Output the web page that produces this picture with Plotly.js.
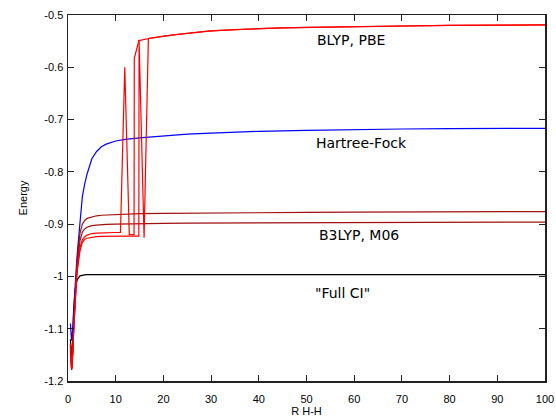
<!DOCTYPE html>
<html>
<head>
<meta charset="utf-8">
<script src="https://cdn.plot.ly/plotly-3.0.1.min.js"></script>
<style>html,body{margin:0;padding:0;background:#fff;}#chart{width:556px;height:417px;}</style>
</head>
<body>
<div id="chart"></div>
<script>
// Common grid of bond lengths (R H-H)
const xGrid = [0.5,0.6,0.7,0.75,0.8,0.9,1.0,1.2,1.5,1.8,2.0,2.5,3,3.5,4,5,6,7,8,10,12,15,20,25,30,40,50,60,70,80,90,100];

const fullCI = [-1.12,-1.143,-1.153,-1.154,-1.152,-1.14,-1.118,-1.065,-1.025,-1.011,-1.005,-0.999,-0.9975,-0.997,-0.9967,-0.9966,-0.9966,-0.9966,-0.9966,-0.9966,-0.9966,-0.9966,-0.9966,-0.9966,-0.9966,-0.9966,-0.9966,-0.9966,-0.9966,-0.9966,-0.9966,-0.9966];

const hartreeFock = [-1.09,-1.112,-1.122,-1.123,-1.121,-1.112,-1.098,-1.062,-1.007,-0.975,-0.95,-0.89,-0.848,-0.823,-0.804,-0.775,-0.761,-0.752,-0.747,-0.741,-0.738,-0.735,-0.731,-0.728,-0.726,-0.7225,-0.7205,-0.719,-0.718,-0.7175,-0.717,-0.7167];

const b3lyp = [-1.14,-1.168,-1.178,-1.179,-1.177,-1.165,-1.145,-1.095,-1.03,-0.985,-0.96,-0.918,-0.900,-0.893,-0.889,-0.886,-0.884,-0.883,-0.8825,-0.882,-0.881,-0.880,-0.8795,-0.879,-0.8785,-0.878,-0.8775,-0.877,-0.8768,-0.8765,-0.8762,-0.876];

const m06 = [-1.135,-1.165,-1.176,-1.177,-1.175,-1.163,-1.143,-1.096,-1.035,-0.995,-0.972,-0.932,-0.915,-0.909,-0.906,-0.903,-0.902,-0.901,-0.9005,-0.900,-0.8995,-0.899,-0.8985,-0.898,-0.8978,-0.8975,-0.897,-0.8967,-0.8965,-0.8963,-0.8961,-0.896];

const xBlyp = [0.5,0.6,0.7,0.75,0.8,0.9,1.0,1.2,1.5,1.8,2.0,2.5,3,3.5,4,5,6,7,8,10,11,11.9,12.85,13.85,13.9,14.85,17,20,22.5,25,27.5,30,35,40,45,50,60,70,80,90,100];
const blyp = [-1.13,-1.163,-1.175,-1.177,-1.175,-1.164,-1.145,-1.1,-1.04,-1.0,-0.98,-0.945,-0.93,-0.924,-0.921,-0.918,-0.917,-0.9165,-0.9162,-0.916,-0.916,-0.600,-0.920,-0.920,-0.583,-0.549,-0.545,-0.5405,-0.5375,-0.535,-0.5325,-0.5305,-0.528,-0.526,-0.5248,-0.5238,-0.5222,-0.521,-0.520,-0.5195,-0.519];

const xPbe = [0.5,0.6,0.7,0.75,0.8,0.9,1.0,1.2,1.5,1.8,2.0,2.5,3,3.5,4,5,6,7,8,10,12,14.85,14.9,15.95,16.85,20,22.5,25,27.5,30,35,40,45,50,60,70,80,90,100];
const pbe = [-1.128,-1.162,-1.174,-1.176,-1.174,-1.163,-1.146,-1.103,-1.045,-1.005,-0.985,-0.952,-0.935,-0.929,-0.927,-0.925,-0.924,-0.9235,-0.9232,-0.923,-0.923,-0.923,-0.548,-0.926,-0.545,-0.5405,-0.5375,-0.535,-0.5325,-0.5305,-0.528,-0.526,-0.5248,-0.5238,-0.5222,-0.521,-0.520,-0.5195,-0.519];

const xTicks = [0,10,20,30,40,50,60,70,80,90,100];
const yTicks = [-1.2,-1.1,-1,-0.9,-0.8,-0.7,-0.6,-0.5];
const yTickText = ['-1.2','-1.1','-1','-0.9','-0.8','-0.7','-0.6','-0.5'];

const labels = [
  {text:'BLYP, PBE', x:51.8, y:-0.548},
  {text:'Hartree-Fock', x:51.6, y:-0.745},
  {text:'B3LYP, M06', x:52.1, y:-0.9206},
  {text:'"Full CI"', x:51.4, y:-1.0316}
];

const darkRed = '#a01010';
const traces = [
  {x:xGrid, y:fullCI, name:'Full CI', line:{color:'#000000', width:1.2}},
  {x:xGrid, y:hartreeFock, name:'Hartree-Fock', line:{color:'#0000ff', width:1.2}},
  {x:xGrid, y:b3lyp, name:'B3LYP', line:{color:darkRed, width:1.2}},
  {x:xGrid, y:m06, name:'M06', line:{color:darkRed, width:1.2}},
  {x:xBlyp, y:blyp, name:'BLYP', line:{color:'#ff0000', width:1.2}},
  {x:xPbe, y:pbe, name:'PBE', line:{color:'#ff0000', width:1.2}}
].map(t => Object.assign({type:'scatter', mode:'lines', hoverinfo:'skip', cliponaxis:true}, t));

const axisCommon = {
  showgrid:false, zeroline:false, showline:true, mirror:'ticks',
  linecolor:'#222', linewidth:1.5,
  ticks:'inside', ticklen:6, tickwidth:1, tickcolor:'#222',
  tickfont:{family:'Liberation Sans, Arial, sans-serif', size:11, color:'#000'}
};

const layout = {
  width:556, height:417,
  margin:{l:68, r:11, t:15, b:36},
  paper_bgcolor:'#fff', plot_bgcolor:'#fff',
  showlegend:false,
  xaxis: Object.assign({}, axisCommon, {
    range:[0,100], tickvals:xTicks, ticktext:xTicks.map(String),
    ticklabelstandoff:7,
    title:{text:'R H-H', font:{family:'Liberation Sans, Arial, sans-serif', size:11, color:'#000'}, standoff:4}
  }),
  yaxis: Object.assign({}, axisCommon, {
    range:[-1.2,-0.5], tickvals:yTicks, ticktext:yTickText,
    ticklabelstandoff:1,
    title:{text:'Energy', font:{family:'Liberation Sans, Arial, sans-serif', size:11, color:'#000'}, standoff:14}
  }),
  annotations: labels.map(l => ({
    text:l.text, x:l.x, y:l.y, xref:'x', yref:'y', xanchor:'left', yanchor:'middle',
    showarrow:false, font:{family:'DejaVu Sans, sans-serif', size:14, color:'#000'}
  }))
};

Plotly.newPlot('chart', traces, layout, {staticPlot:true, displayModeBar:false});
</script>
</body>
</html>
